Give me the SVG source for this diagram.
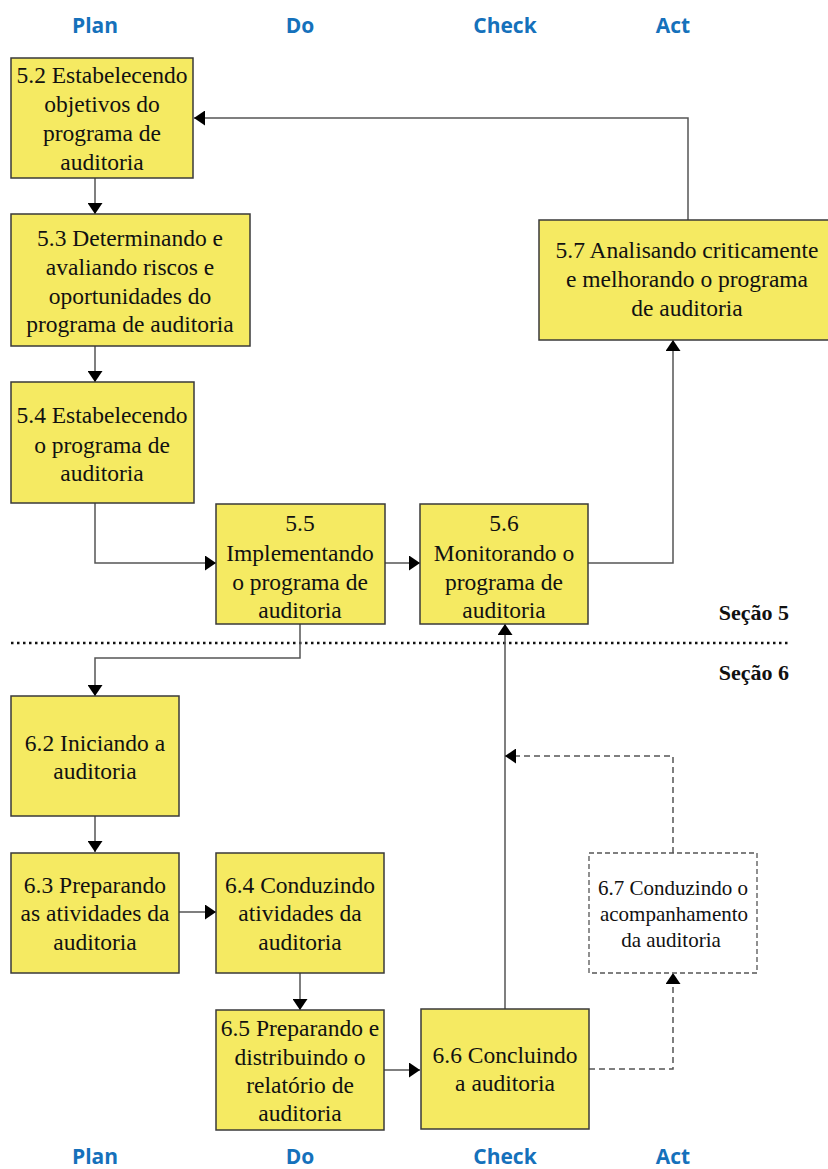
<svg xmlns="http://www.w3.org/2000/svg" width="828" height="1169" viewBox="0 0 828 1169">
<style>
.hdr{font-family:"Open Sans","Liberation Sans",sans-serif;font-weight:bold;font-size:21px;fill:#1571BB;text-anchor:middle}
.box{fill:#F5EA62;stroke:#3a3a3a;stroke-width:1.5}
.dbox{fill:#fff;stroke:#555;stroke-width:1.3;stroke-dasharray:5 3}
.t{font-family:"Liberation Serif","DejaVu Serif",serif;font-size:23.5px;fill:#111;text-anchor:middle}
.ts{font-family:"Liberation Serif","DejaVu Serif",serif;font-size:21px;fill:#111;text-anchor:middle}
.sec{font-family:"Liberation Serif","DejaVu Serif",serif;font-weight:bold;font-size:22px;fill:#111;text-anchor:end}
.c{fill:none;stroke:#555;stroke-width:1.5}
.cd{fill:none;stroke:#555;stroke-width:1.5;stroke-dasharray:6 4}
</style>
<defs>
<marker id="ah" viewBox="0 0 11 15" refX="11" refY="7.5" markerWidth="11" markerHeight="15" markerUnits="userSpaceOnUse" orient="auto">
<path d="M0,0 L11,7.5 L0,15 Z" fill="#000"/>
</marker>
</defs>

<g id="headers">
<text class="hdr" x="95" y="33">Plan</text>
<text class="hdr" x="300" y="33">Do</text>
<text class="hdr" x="505" y="33">Check</text>
<text class="hdr" x="673" y="33">Act</text>
<text class="hdr" x="95" y="1164">Plan</text>
<text class="hdr" x="300" y="1164">Do</text>
<text class="hdr" x="505" y="1164">Check</text>
<text class="hdr" x="673" y="1164">Act</text>
</g>

<g id="sections">
<line x1="11" y1="643" x2="790" y2="643" stroke="#111" stroke-width="2.5" stroke-dasharray="2.5 3.5"/>
<text class="sec" x="789" y="620">Seção 5</text>
<text class="sec" x="789" y="680">Seção 6</text>
</g>

<g id="connectors">
<path class="c" d="M95,178 V214" marker-end="url(#ah)"/>
<path class="c" d="M95,346 V382" marker-end="url(#ah)"/>
<path class="c" d="M95,503 V563 H216" marker-end="url(#ah)"/>
<path class="c" d="M385,563 H420" marker-end="url(#ah)"/>
<path class="c" d="M588,563 H673 V340" marker-end="url(#ah)"/>
<path class="c" d="M688,220 V118 H194" marker-end="url(#ah)"/>
<path class="c" d="M300,624 V658 H95 V696" marker-end="url(#ah)"/>
<path class="c" d="M95,816 V852" marker-end="url(#ah)"/>
<path class="c" d="M179,912 H216" marker-end="url(#ah)"/>
<path class="c" d="M300,973 V1010" marker-end="url(#ah)"/>
<path class="c" d="M384,1070 H420" marker-end="url(#ah)"/>
<path class="c" d="M505,1009 V624" marker-end="url(#ah)"/>
<path class="cd" d="M589,1069 H673 V973" marker-end="url(#ah)"/>
<path class="cd" d="M673,853 V756 H505" marker-end="url(#ah)"/>
</g>

<g id="n52">
<rect class="box" x="11" y="58" width="182" height="120"/>
<text class="t" x="102" y="83">5.2 Estabelecendo<tspan x="102" dy="29">objetivos do</tspan><tspan x="102" dy="29">programa de</tspan><tspan x="102" dy="29">auditoria</tspan></text>
</g>
<g id="n53">
<rect class="box" x="11" y="214" width="239" height="132"/>
<text class="t" x="130" y="246">5.3 Determinando e<tspan x="130" dy="29">avaliando riscos e</tspan><tspan x="130" dy="29">oportunidades do</tspan><tspan x="130" dy="28">programa de auditoria</tspan></text>
</g>
<g id="n54">
<rect class="box" x="11" y="382" width="183" height="121"/>
<text class="t" x="102" y="423">5.4 Estabelecendo<tspan x="102" dy="30">o programa de</tspan><tspan x="102" dy="28">auditoria</tspan></text>
</g>
<g id="n55">
<rect class="box" x="216" y="504" width="169" height="120"/>
<text class="t" x="300" y="531">5.5<tspan x="300" dy="30">Implementando</tspan><tspan x="300" dy="29">o programa de</tspan><tspan x="300" dy="28">auditoria</tspan></text>
</g>
<g id="n56">
<rect class="box" x="420" y="504" width="168" height="120"/>
<text class="t" x="504" y="531">5.6<tspan x="504" dy="30">Monitorando o</tspan><tspan x="504" dy="29">programa de</tspan><tspan x="504" dy="28">auditoria</tspan></text>
</g>
<g id="n57">
<rect class="box" x="539" y="220" width="295" height="120"/>
<text class="t" x="687" y="258">5.7 Analisando criticamente<tspan x="687" dy="29">e melhorando o programa</tspan><tspan x="687" dy="29">de auditoria</tspan></text>
</g>
<g id="n62">
<rect class="box" x="11" y="696" width="168" height="120"/>
<text class="t" x="95" y="751">6.2 Iniciando a<tspan x="95" dy="28">auditoria</tspan></text>
</g>
<g id="n63">
<rect class="box" x="11" y="853" width="168" height="120"/>
<text class="t" x="95" y="893">6.3 Preparando<tspan x="95" dy="28">as atividades da</tspan><tspan x="95" dy="29">auditoria</tspan></text>
</g>
<g id="n64">
<rect class="box" x="216" y="853" width="168" height="120"/>
<text class="t" x="300" y="893">6.4 Conduzindo<tspan x="300" dy="28">atividades da</tspan><tspan x="300" dy="29">auditoria</tspan></text>
</g>
<g id="n65">
<rect class="box" x="216" y="1010" width="168" height="120"/>
<text class="t" x="300" y="1036">6.5 Preparando e<tspan x="300" dy="29">distribuindo o</tspan><tspan x="300" dy="28">relatório de</tspan><tspan x="300" dy="28">auditoria</tspan></text>
</g>
<g id="n66">
<rect class="box" x="421" y="1009" width="168" height="120"/>
<text class="t" x="505" y="1063">6.6 Concluindo<tspan x="505" dy="28">a auditoria</tspan></text>
</g>
<g id="n67">
<rect class="dbox" x="589" y="853" width="168" height="120"/>
<text class="ts" x="673" y="895">6.7 Conduzindo o<tspan x="674" dy="26">acompanhamento</tspan><tspan x="671" dy="26">da auditoria</tspan></text>
</g>
</svg>
